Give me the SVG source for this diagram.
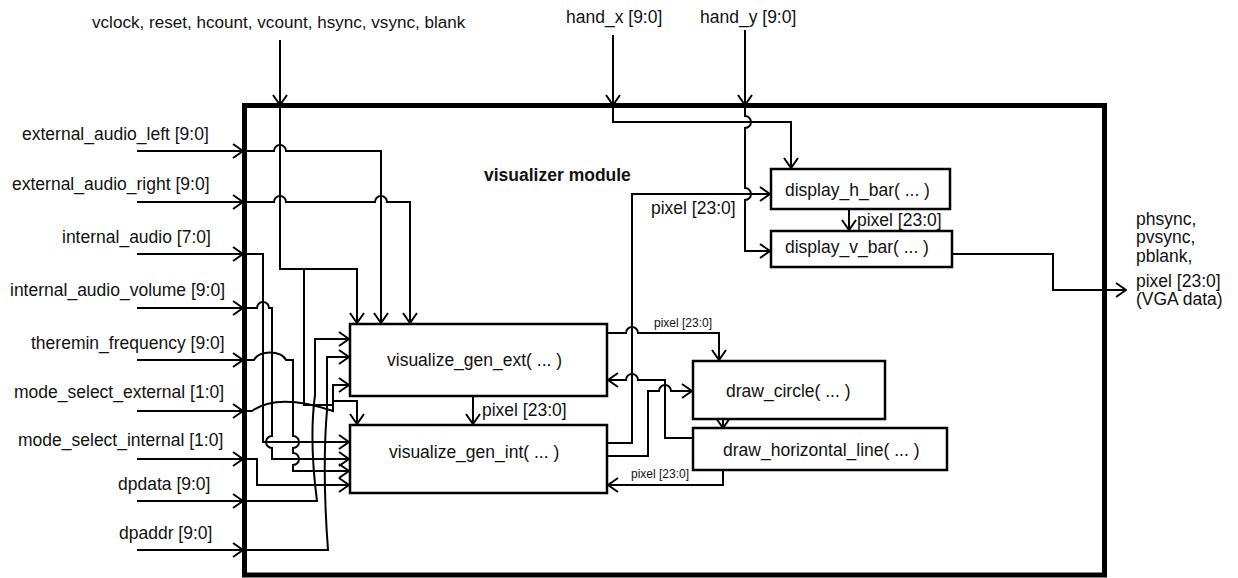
<svg xmlns="http://www.w3.org/2000/svg" width="1238" height="578" viewBox="0 0 1238 578">
<defs>
<marker id="a" viewBox="-11 -8 12 16" refX="0" refY="0" markerWidth="12" markerHeight="16" markerUnits="userSpaceOnUse" orient="auto">
<path d="M-10,-7 L0,0 L-10,7" fill="none" stroke="#000" stroke-width="2"/>
</marker>
</defs>
<style>
text{font-family:"Liberation Sans",Arial,sans-serif;font-size:17.5px;fill:#111}
.s{font-size:12px}
.t{font-size:17.1px}
.b{font-weight:bold}
.w{fill:none;stroke:#000;stroke-width:2}
.ar{marker-end:url(#a)}
.box{fill:#fff;stroke:#000;stroke-width:2.5}
</style>
<rect x="244.5" y="105.5" width="860" height="469.5" fill="none" stroke="#000" stroke-width="5"/>
<g id="connectors">
<path class="w ar" d="M137,151 H243"/>
<path class="w ar" d="M137,202 H243"/>
<path class="w ar" d="M137,254 H243"/>
<path class="w ar" d="M137,308 H243"/>
<path class="w ar" d="M137,360 H243"/>
<path class="w ar" d="M137,411 H243"/>
<path class="w ar" d="M137,459 H243"/>
<path class="w ar" d="M137,501 H243"/>
<path class="w ar" d="M137,550 H243"/>
<path class="w ar" d="M280,40 V105"/>
<path class="w ar" d="M613,35 V105"/>
<path class="w ar" d="M745,30 V105"/>
<path class="w ar" d="M280,106 V269 H357 V323"/>
<path class="w ar" d="M304,269 V405 H333 V401 H357 V424"/>
<path class="w ar" d="M246,151 H274 a6,6 0 0 1 12,0 H381 V323"/>
<path class="w ar" d="M246,202 H274 a6,6 0 0 1 12,0 H375 a6,6 0 0 1 12,0 H410 V323"/>
<path class="w ar" d="M246,254 H263 V442 H349"/>
<path class="w ar" d="M246,308 H257 a6,6 0 0 1 12,0 H272 V436 a6,6 0 0 0 0,12 V459 H349"/>
<path class="w ar" d="M246,360 H254 C258,350 282,350 286,360 H293 V436 a6,6 0 0 1 0,12 V453 a6,6 0 0 1 0,12 V471 H349"/>
<path class="w ar" d="M246,411 H252 C270,398 300,400 333,411 V385 H349"/>
<path class="w ar" d="M246,459 H257 V485 H349"/>
<path class="w ar" d="M246,501 H317 Q309,440 315,395 V339 H349"/>
<path class="w ar" d="M246,550 H328 Q322,470 327,410 V357 H349"/>
<path class="w ar" d="M473,396 V424"/>
<path class="w ar" d="M613,106 V122 H791 V168"/>
<path class="w ar" d="M745,106 V116 a6,6 0 0 1 0,12 V188 a6,6 0 0 1 0,12 V251 H770"/>
<path class="w ar" d="M607,443 H632 V194 H770"/>
<path class="w ar" d="M607,333 H626 a6,6 0 0 1 12,0 H719 V360"/>
<path class="w ar" d="M692,438 H665 V380 H638 a6,6 0 0 0 -12,0 H608"/>
<path class="w ar" d="M607,456 H648 V391 H659 a6,6 0 0 1 12,0 H692"/>
<path class="w ar" d="M723,470 V485 H608"/>
<path class="w ar" d="M723,419 V428"/>
<path class="w ar" d="M849,209 V230"/>
<path class="w ar" d="M952,254 H1053 V290 H1126"/>
</g>
<g id="labels">
<text class="t" x="92" y="28">vclock, reset, hcount, vcount, hsync, vsync, blank</text>
<text x="566" y="23">hand_x [9:0]</text>
<text x="700" y="23">hand_y [9:0]</text>
<text x="22" y="140">external_audio_left [9:0]</text>
<text x="12" y="190">external_audio_right [9:0]</text>
<text x="62" y="243">internal_audio [7:0]</text>
<text x="10" y="296">internal_audio_volume [9:0]</text>
<text x="31" y="349">theremin_frequency [9:0]</text>
<text x="14" y="398">mode_select_external [1:0]</text>
<text x="18" y="446">mode_select_internal [1:0]</text>
<text x="118" y="490">dpdata [9:0]</text>
<text x="119" y="539">dpaddr [9:0]</text>
<text class="b" x="484" y="181">visualizer module</text>
<text x="651" y="214">pixel [23:0]</text>
<text x="857" y="226">pixel [23:0]</text>
<text x="482" y="416">pixel [23:0]</text>
<text class="s" x="654" y="327">pixel [23:0]</text>
<text class="s" x="631" y="478">pixel [23:0]</text>
<text x="1136" y="225">phsync,</text>
<text x="1136" y="243">pvsync,</text>
<text x="1136" y="262">pblank,</text>
<text x="1136" y="287">pixel [23:0]</text>
<text x="1136" y="305">(VGA data)</text>
</g>
<g id="visualize_gen_ext"><rect class="box" x="350" y="324" width="257" height="72"/><text x="387" y="366">visualize_gen_ext( ... )</text></g>
<g id="visualize_gen_int"><rect class="box" x="350" y="425" width="257" height="68"/><text x="389" y="458">visualize_gen_int( ... )</text></g>
<g id="draw_circle"><rect class="box" x="693" y="361" width="192" height="58"/><text x="726" y="397">draw_circle( ... )</text></g>
<g id="draw_horizontal_line"><rect class="box" x="693" y="428" width="254" height="42"/><text x="723" y="456">draw_horizontal_line( ... )</text></g>
<g id="display_h_bar"><rect class="box" x="771" y="169" width="179" height="40"/><text x="785" y="196">display_h_bar( ... )</text></g>
<g id="display_v_bar"><rect class="box" x="771" y="231" width="181" height="36"/><text x="785" y="253">display_v_bar( ... )</text></g>
</svg>
